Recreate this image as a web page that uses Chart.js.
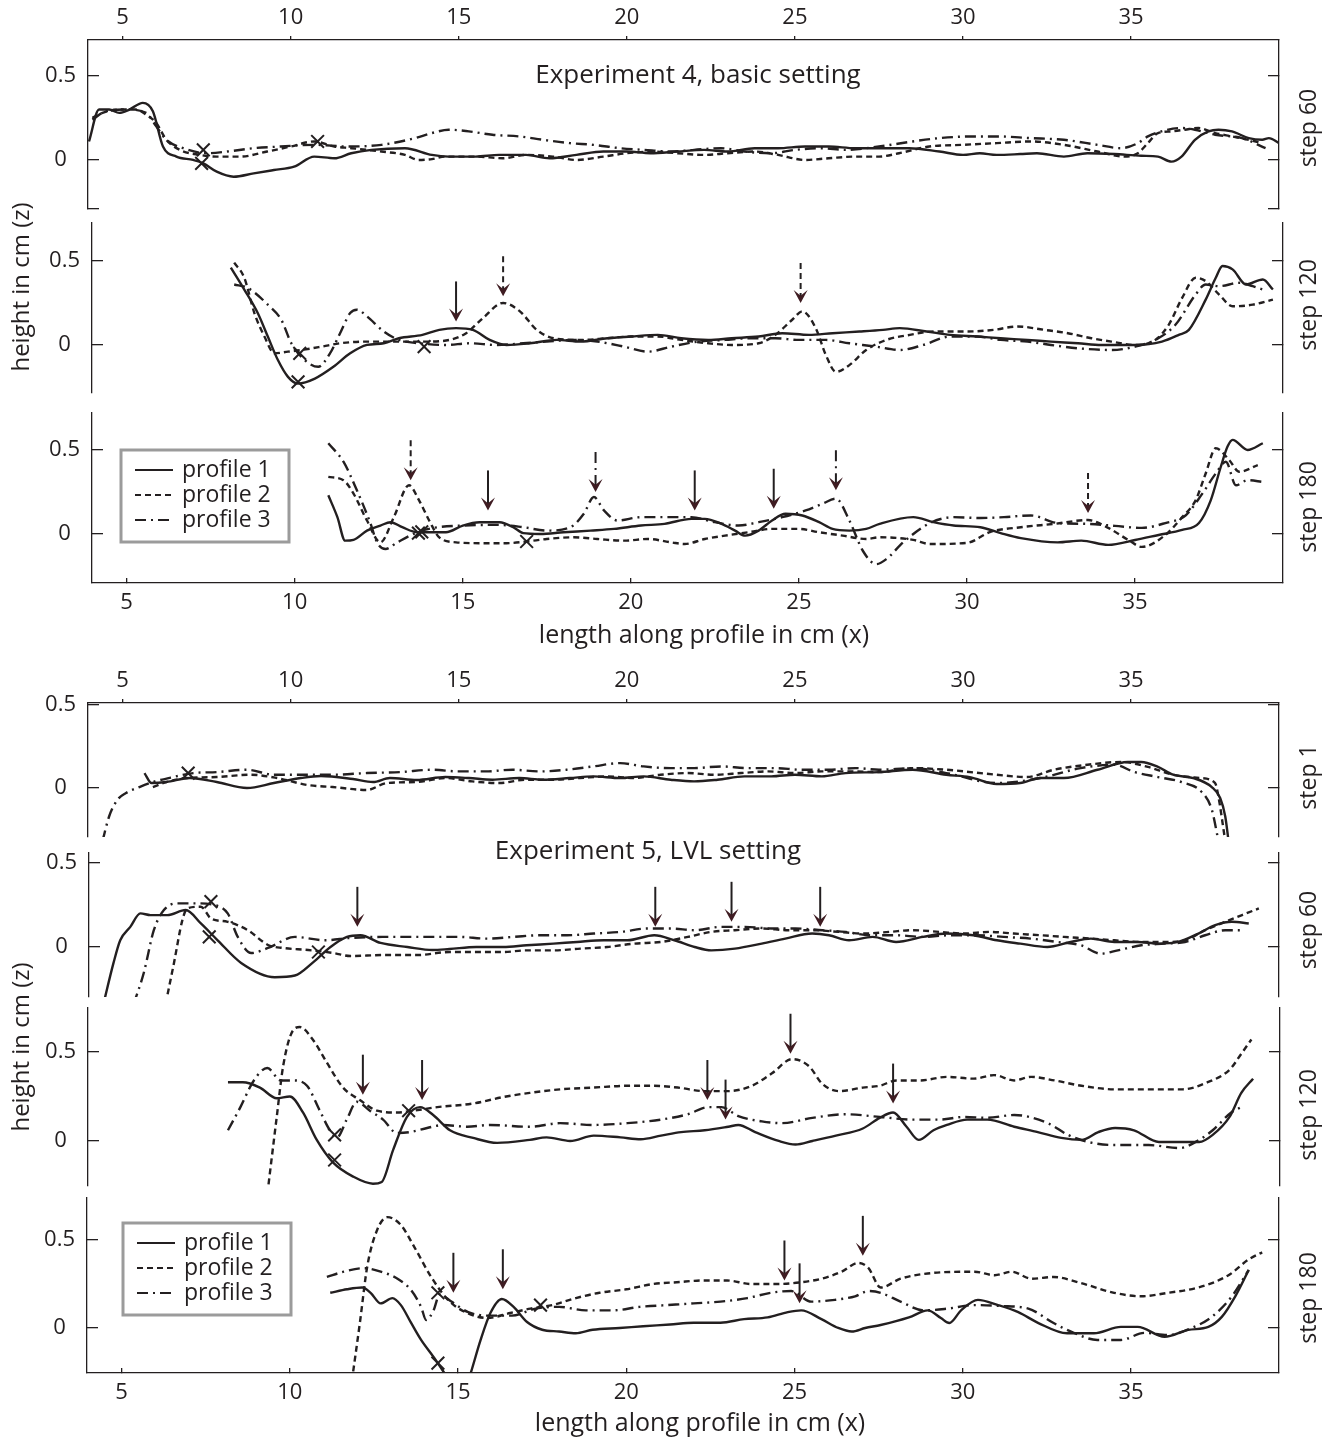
<!DOCTYPE html>
<html>
<head>
<meta charset="utf-8">
<script src="https://cdn.jsdelivr.net/npm/chart.js@4.4.1/dist/chart.umd.min.js"></script>
<style>
  body { margin: 0; background: #fff; }
  #wrap { position: relative; width: 1331px; height: 1438px; overflow: hidden; background: #fff; }
  #wrap canvas { position: absolute; left: 0; }
</style>
</head>
<body>
<div id="wrap"></div>
<script>
// ---- texts and ticks ----
const xTicks = [5, 10, 15, 20, 25, 30, 35];
const yTicks = [0, 0.5];
const profileNames = ['profile 1', 'profile 2', 'profile 3'];
const exp4Steps = ['step 60', 'step 120', 'step 180'];
const exp5Steps = ['step 1', 'step 60', 'step 120', 'step 180'];
const xTitle = 'length along profile in cm (x)';
const yTitle = 'height in cm (z)';
const exp4Title = 'Experiment 4, basic setting';
const exp5Title = 'Experiment 5, LVL setting';

// ---- Experiment 4, step 60 ----
const exp4Step60Profile1 = [[4.0,0.11],[4.3,0.30],[4.6,0.30],[4.9,0.28],[5.2,0.30],[5.6,0.34],[5.9,0.29],[6.2,0.08],[6.6,0.02],[7.1,0.0],[7.4,-0.02],[7.8,-0.07],[8.3,-0.10],[8.9,-0.08],[9.5,-0.06],[10.1,-0.04],[10.7,0.02],[11.3,0.01],[11.8,0.04],[12.4,0.06],[13.4,0.07],[14.2,0.03],[14.7,0.02],[15.5,0.02],[16.2,0.03],[17,0.03],[17.7,0.01],[18.5,0.03],[19.3,0.05],[20,0.05],[20.7,0.04],[21.5,0.05],[22.3,0.06],[23,0.05],[23.8,0.07],[24.5,0.07],[25.3,0.08],[26,0.08],[26.8,0.07],[27.5,0.07],[28.4,0.07],[29.3,0.05],[30,0.03],[30.5,0.04],[31,0.03],[31.7,0.035],[32.2,0.04],[33,0.02],[33.7,0.04],[34.5,0.035],[35.3,0.025],[35.8,0.02],[36.2,-0.01],[36.5,0.02],[36.9,0.12],[37.3,0.17],[37.6,0.18],[38,0.17],[38.5,0.13],[38.9,0.12],[39.1,0.13],[39.4,0.10]];
const exp4Step60Profile2 = [[4.1,0.25],[4.4,0.28],[4.9,0.30],[5.4,0.30],[5.7,0.27],[6.0,0.22],[6.3,0.12],[6.7,0.06],[7.3,0.03],[7.8,0.02],[8.5,0.02],[9.3,0.05],[10.0,0.08],[10.7,0.11],[11.3,0.08],[11.8,0.07],[12.7,0.05],[13.4,0.03],[13.8,0.0],[14.2,0.005],[14.6,0.02],[15.5,0.02],[16.3,0.01],[17,0.03],[17.8,0.02],[18.5,0.0],[19.3,0.02],[20,0.04],[20.8,0.05],[21.5,0.04],[22.3,0.03],[23,0.04],[23.8,0.05],[24.5,0.03],[25.3,0.0],[26,0.01],[26.8,0.02],[27.5,0.02],[28.1,0.04],[29,0.08],[30,0.09],[31,0.10],[32,0.11],[33,0.09],[34,0.05],[34.8,0.02],[35.2,0.04],[35.5,0.10],[35.8,0.16],[36.2,0.17],[36.6,0.18],[37,0.19],[37.5,0.16],[38,0.14],[38.5,0.12],[38.9,0.10]];
const exp4Step60Profile3 = [[4.1,0.24],[4.5,0.29],[5.1,0.30],[5.7,0.28],[6.0,0.20],[6.3,0.12],[6.8,0.07],[7.5,0.04],[8.1,0.05],[8.9,0.07],[9.7,0.08],[10.7,0.09],[11.7,0.08],[12.7,0.09],[13.7,0.13],[14.2,0.16],[14.7,0.18],[15.3,0.17],[16,0.15],[16.8,0.14],[17.5,0.12],[18.3,0.10],[19,0.09],[19.8,0.07],[20.5,0.06],[21.3,0.05],[22,0.06],[22.8,0.07],[23.5,0.05],[24.3,0.04],[25,0.06],[25.8,0.07],[26.5,0.06],[27.5,0.08],[28.5,0.11],[29.3,0.13],[30.3,0.14],[31,0.14],[32,0.13],[33,0.12],[34,0.09],[34.7,0.07],[35.2,0.10],[35.5,0.14],[35.9,0.17],[36.5,0.19],[36.9,0.18],[37.5,0.15],[38.3,0.13],[39,0.07]];
const exp4Step60Marks = [[7.4,0.06],[7.35,-0.02],[10.8,0.11]];
const exp4Step60Arrows = [];

// ---- Experiment 4, step 120 ----
const exp4Step120Profile1 = [[8.1,0.46],[8.5,0.33],[8.9,0.19],[9.2,0.05],[9.5,-0.09],[9.8,-0.19],[10.1,-0.23],[10.6,-0.20],[11.15,-0.13],[11.65,-0.05],[12.15,0.0],[12.65,0.01],[13.1,0.04],[13.8,0.06],[14.3,0.09],[14.8,0.10],[15.3,0.09],[15.8,0.03],[16.3,0.0],[17,0.01],[17.8,0.03],[18.5,0.02],[19.3,0.04],[20,0.05],[20.8,0.06],[21.5,0.04],[22.3,0.03],[23,0.04],[23.8,0.05],[24.5,0.07],[25.3,0.06],[26,0.07],[26.8,0.08],[27.5,0.09],[28,0.10],[28.8,0.08],[29.5,0.06],[30.3,0.05],[31,0.04],[31.8,0.03],[32.5,0.02],[33.3,0.01],[34,0.0],[35,0.0],[35.8,0.02],[36.3,0.06],[36.6,0.09],[37.1,0.27],[37.4,0.40],[37.6,0.47],[37.9,0.45],[38.3,0.36],[38.8,0.39],[39.1,0.33]];
const exp4Step120Profile2 = [[8.2,0.49],[8.5,0.40],[8.8,0.19],[9.1,0.05],[9.4,-0.05],[9.8,-0.04],[10.2,-0.03],[10.8,-0.01],[11.35,0.01],[12.15,0.02],[13.1,0.02],[13.9,0.02],[14.6,0.03],[15.1,0.07],[15.6,0.16],[16.2,0.25],[16.7,0.20],[17.2,0.09],[17.7,0.04],[18.5,0.03],[19.3,0.04],[20,0.05],[20.8,0.05],[21.5,0.03],[22.3,0.01],[23,0.0],[23.8,0.01],[24.3,0.06],[24.8,0.15],[25.1,0.20],[25.5,0.10],[25.8,-0.06],[26.1,-0.16],[26.5,-0.12],[27,-0.03],[27.6,0.03],[28.3,0.06],[29,0.08],[30,0.08],[30.8,0.09],[31.5,0.11],[32.3,0.09],[33,0.07],[33.7,0.04],[34.3,0.02],[35,0.0],[35.6,0.03],[36,0.12],[36.4,0.28],[36.8,0.40],[37.1,0.38],[37.5,0.30],[37.9,0.23],[38.5,0.24],[39.1,0.27]];
const exp4Step120Profile3 = [[8.2,0.36],[8.6,0.34],[9.2,0.24],[9.6,0.15],[9.9,0.01],[10.3,-0.09],[10.7,-0.13],[11.05,-0.05],[11.35,0.07],[11.65,0.19],[11.85,0.21],[12.15,0.17],[12.65,0.08],[13.1,0.03],[13.7,0.01],[14.5,0.0],[15.2,0.01],[16,0.0],[16.8,0.01],[17.5,0.02],[18.3,0.03],[19,0.02],[19.8,-0.01],[20.5,-0.04],[21.2,-0.01],[22,0.02],[22.8,0.03],[23.5,0.04],[24.3,0.04],[25,0.03],[25.8,0.03],[26.5,0.01],[27.3,-0.01],[28,-0.03],[28.7,0.0],[29.5,0.05],[30.3,0.05],[31,0.03],[31.8,0.02],[32.5,0.0],[33.3,-0.02],[34.3,-0.03],[35,-0.01],[35.6,0.03],[36.2,0.12],[36.8,0.30],[37.1,0.36],[37.5,0.35],[38.1,0.37],[38.5,0.35],[38.8,0.33]];
const exp4Step120Marks = [[10.1,-0.22],[10.15,-0.05],[13.85,-0.01]];
const exp4Step120Arrows = [[14.8,0.14,1],[16.2,0.29,2],[25.05,0.25,2]];

// ---- Experiment 4, step 180 ----
const exp4Step180Profile1 = [[11.0,0.23],[11.27,0.10],[11.5,-0.04],[11.75,-0.035],[12.15,0.02],[12.55,0.05],[12.85,0.07],[13.2,0.04],[13.65,0.01],[14.0,0.01],[14.5,0.01],[15.0,0.05],[15.5,0.07],[16.1,0.07],[16.5,0.04],[16.8,0.005],[17.3,0.0],[18,0.01],[18.8,0.02],[19.5,0.03],[20.3,0.05],[21,0.06],[21.8,0.09],[22.2,0.09],[22.7,0.06],[23.1,0.02],[23.4,-0.01],[23.8,0.02],[24.2,0.08],[24.6,0.12],[25.1,0.11],[25.6,0.07],[26,0.03],[26.5,0.02],[27,0.03],[27.4,0.06],[28.4,0.10],[29,0.07],[29.6,0.05],[30.4,0.04],[31,0.005],[31.6,-0.025],[32.7,-0.05],[33.4,-0.04],[34.2,-0.065],[35,-0.036],[35.7,-0.006],[36.4,0.024],[36.9,0.065],[37.25,0.20],[37.55,0.40],[37.75,0.52],[37.9,0.56],[38.35,0.50],[38.8,0.54]];
const exp4Step180Profile2 = [[11.0,0.34],[11.45,0.32],[11.75,0.24],[12.15,0.08],[12.55,-0.05],[12.95,0.10],[13.4,0.29],[13.7,0.20],[14.0,0.08],[14.3,-0.02],[14.8,-0.05],[15.5,-0.055],[16.3,-0.055],[16.9,-0.045],[17.5,-0.03],[18.3,-0.02],[19,-0.03],[19.8,-0.04],[20.5,-0.03],[21.2,-0.05],[21.6,-0.06],[22.2,-0.03],[22.8,-0.01],[23.5,0.01],[24.2,0.03],[25,0.03],[25.6,0.01],[26.3,-0.01],[27,-0.03],[27.4,-0.02],[28.4,-0.035],[28.9,-0.06],[30,-0.053],[30.7,0.012],[31.6,0.04],[32.6,0.06],[33.6,0.083],[34.2,0.036],[34.8,-0.036],[35.2,-0.077],[35.9,-0.006],[36.4,0.10],[36.8,0.20],[37.1,0.36],[37.4,0.51],[37.8,0.44],[38.1,0.37],[38.65,0.41]];
const exp4Step180Profile3 = [[11.0,0.54],[11.45,0.43],[11.85,0.26],[12.25,0.065],[12.45,-0.05],[12.7,-0.09],[13.05,-0.05],[13.65,0.01],[14.1,0.035],[15,0.05],[16,0.054],[16.8,0.04],[17.5,0.02],[18.2,0.04],[18.6,0.12],[18.9,0.22],[19.2,0.14],[19.6,0.08],[20.3,0.10],[21,0.10],[21.8,0.10],[22.5,0.07],[23.2,0.05],[23.8,0.07],[24.5,0.10],[25.2,0.14],[25.7,0.18],[26.1,0.21],[26.5,0.08],[26.9,-0.10],[27.3,-0.18],[27.6,-0.15],[28.1,-0.05],[28.9,0.065],[29.6,0.10],[30.4,0.095],[31.1,0.10],[31.9,0.11],[32.7,0.065],[33.6,0.06],[34.4,0.048],[35.2,0.036],[35.9,0.065],[36.5,0.11],[37.0,0.24],[37.4,0.36],[37.7,0.43],[38.0,0.29],[38.35,0.32],[38.8,0.31]];
const exp4Step180Marks = [[13.68,0.005],[13.78,0.012],[16.9,-0.045]];
const exp4Step180Arrows = [[13.45,0.32,2],[15.75,0.14,1],[18.95,0.25,3],[21.9,0.14,1],[24.25,0.15,1],[26.1,0.26,3],[33.6,0.125,2]];

// ---- Experiment 5, step 1 ----
const exp5Step1Profile1 = [[5.65,0.09],[5.86,0.03],[6.3,0.036],[7.0,0.06],[7.8,0.036],[8.7,0.0],[9.5,0.03],[10.3,0.06],[10.9,0.072],[11.85,0.054],[12.45,0.036],[12.95,0.06],[13.75,0.048],[14.6,0.066],[15.3,0.06],[16,0.05],[16.8,0.06],[17.5,0.05],[18.3,0.06],[19,0.07],[19.8,0.06],[20.5,0.07],[21.3,0.05],[22,0.04],[22.7,0.05],[23.5,0.07],[24.3,0.07],[25,0.08],[25.8,0.07],[26.5,0.09],[27.5,0.096],[28.5,0.11],[29.5,0.08],[30.2,0.066],[31,0.024],[31.7,0.03],[32.3,0.06],[33,0.06],[34,0.11],[34.9,0.157],[35.3,0.157],[35.8,0.127],[36.25,0.08],[36.85,0.06],[37.4,0.006],[37.65,-0.06],[37.8,-0.17],[37.9,-0.32]];
const exp5Step1Profile2 = [[5.9,0.006],[6.3,0.036],[6.9,0.06],[7.8,0.066],[8.8,0.08],[9.6,0.06],[10.5,0.018],[11.25,0.006],[12.26,-0.012],[12.86,0.03],[13.75,0.036],[14.6,0.06],[15.4,0.04],[16.2,0.03],[17,0.05],[17.8,0.05],[18.6,0.06],[19.4,0.07],[20.2,0.06],[21,0.08],[21.8,0.09],[22.6,0.08],[23.4,0.09],[24.2,0.10],[25,0.09],[25.8,0.10],[26.6,0.10],[27.5,0.096],[28.5,0.12],[29.5,0.11],[31.0,0.08],[31.9,0.066],[32.7,0.11],[33.7,0.14],[34.7,0.157],[35.5,0.127],[36.25,0.08],[37.05,0.06],[37.5,0.03],[37.6,-0.054],[37.75,-0.25],[37.8,-0.32]];
const exp5Step1Profile3 = [[4.4,-0.32],[4.6,-0.17],[4.85,-0.07],[5.1,-0.03],[5.5,0.006],[5.9,0.036],[6.5,0.066],[7.1,0.09],[7.8,0.096],[8.7,0.11],[9.5,0.08],[10.3,0.08],[11.25,0.08],[12.26,0.09],[13.25,0.096],[14.2,0.11],[15,0.10],[15.8,0.10],[16.6,0.11],[17.4,0.10],[18.2,0.11],[19,0.13],[19.8,0.15],[20.5,0.13],[21.3,0.12],[22,0.12],[22.8,0.13],[23.6,0.12],[24.4,0.12],[25.2,0.11],[26,0.11],[26.8,0.12],[27.5,0.11],[28.5,0.12],[29.5,0.09],[31,0.03],[32.3,0.06],[33.5,0.12],[34.5,0.14],[35.1,0.096],[35.8,0.066],[36.5,0.036],[37.1,-0.024],[37.4,-0.13],[37.6,-0.32]];
const exp5Step1Marks = [[6.95,0.09]];
const exp5Step1Arrows = [];

// ---- Experiment 5, step 60 ----
const exp5Step60Profile1 = [[4.4,-0.34],[4.7,-0.095],[4.9,0.04],[5.2,0.12],[5.5,0.20],[5.8,0.19],[6.3,0.19],[6.85,0.22],[7.3,0.14],[7.8,0.04],[8.5,-0.095],[9.5,-0.18],[10.1,-0.17],[10.65,-0.09],[11.16,0.0],[11.65,0.06],[12.05,0.07],[12.65,0.024],[13.45,0.0],[14.2,-0.018],[14.7,-0.012],[15.5,0.0],[16.3,0.0],[17,0.01],[17.8,0.02],[18.5,0.03],[19.3,0.04],[20,0.04],[20.8,0.07],[21.4,0.04],[22,0.0],[22.5,-0.02],[23.2,-0.01],[24,0.02],[24.7,0.05],[25.5,0.08],[26,0.07],[26.6,0.04],[27.3,0.06],[28,0.03],[28.8,0.06],[29.5,0.08],[30.3,0.07],[31,0.04],[31.7,0.02],[32.5,0.0],[33.2,0.03],[33.8,0.05],[34.5,0.03],[35.2,0.03],[35.8,0.02],[36.4,0.03],[37,0.08],[37.5,0.13],[38,0.15],[38.5,0.14]];
const exp5Step60Profile2 = [[6.25,-0.34],[6.5,-0.095],[6.75,0.16],[6.9,0.23],[7.3,0.24],[7.6,0.17],[8.1,0.15],[8.7,0.10],[9.3,0.012],[9.75,-0.006],[10.5,-0.018],[11.25,-0.036],[11.75,-0.054],[12.75,-0.048],[13.75,-0.048],[14.7,-0.03],[15.5,-0.03],[16.3,-0.03],[17,-0.02],[17.8,-0.02],[18.6,-0.01],[19.4,0.0],[20.2,0.02],[21,0.03],[21.8,0.06],[22.5,0.09],[23.2,0.10],[24,0.11],[24.8,0.10],[25.5,0.10],[26.3,0.09],[27,0.08],[27.8,0.09],[28.5,0.10],[29.3,0.09],[30,0.08],[30.8,0.09],[31.5,0.08],[32.3,0.07],[33,0.06],[33.8,0.05],[34.5,0.04],[35.3,0.03],[36,0.03],[36.6,0.04],[37.2,0.10],[37.8,0.15],[38.3,0.19],[38.8,0.23]];
const exp5Step60Profile3 = [[5.3,-0.34],[5.6,-0.155],[5.9,0.10],[6.2,0.22],[6.6,0.26],[7.1,0.26],[7.7,0.25],[8.1,0.20],[8.4,0.06],[8.8,-0.036],[9.3,-0.006],[10.1,0.06],[11.0,0.04],[11.75,0.054],[12.7,0.06],[13.5,0.06],[14.2,0.06],[15,0.06],[15.8,0.05],[16.6,0.06],[17.4,0.07],[18.2,0.07],[19,0.08],[19.8,0.09],[20.6,0.11],[21.3,0.11],[22,0.10],[22.8,0.12],[23.5,0.12],[24.3,0.11],[25,0.11],[25.8,0.10],[26.5,0.09],[27.2,0.07],[28,0.07],[28.8,0.06],[29.6,0.07],[30.4,0.07],[31.2,0.06],[32,0.05],[32.8,0.03],[33.5,0.01],[34.1,-0.04],[34.6,-0.02],[35.3,0.01],[36,0.02],[36.6,0.03],[37.2,0.07],[37.8,0.10],[38.3,0.10]];
const exp5Step60Marks = [[7.6,0.27],[7.55,0.06],[10.8,-0.03]];
const exp5Step60Arrows = [[11.96,0.12,1],[20.83,0.12,1],[23.1,0.15,1],[25.74,0.12,1]];

// ---- Experiment 5, step 120 ----
const exp5Step120Profile1 = [[8.13,0.33],[8.57,0.33],[9.08,0.30],[9.58,0.24],[9.97,0.25],[10.36,0.16],[10.77,0.006],[11.25,-0.12],[11.85,-0.20],[12.44,-0.24],[12.7,-0.23],[13.04,-0.05],[13.45,0.135],[13.84,0.19],[14.23,0.146],[14.73,0.06],[15.42,0.017],[16.13,-0.011],[17.1,0.006],[17.6,0.02],[18.3,0.0],[19,0.03],[19.8,0.02],[20.4,0.01],[21,0.03],[21.6,0.05],[22.3,0.06],[23,0.08],[23.3,0.09],[23.8,0.05],[24.5,0.0],[25,-0.02],[25.5,0.0],[26.2,0.03],[27,0.07],[27.5,0.13],[27.9,0.16],[28.3,0.08],[28.66,0.006],[29.1,0.06],[29.5,0.09],[30.1,0.12],[30.7,0.12],[31.5,0.08],[32.2,0.05],[32.9,0.017],[33.5,0.006],[34.0,0.05],[34.5,0.073],[35.06,0.06],[35.8,-0.006],[36.5,-0.006],[37.0,-0.006],[37.4,0.034],[37.9,0.135],[38.25,0.27],[38.6,0.35]];
const exp5Step120Profile2 = [[9.3,-0.30],[9.58,0.135],[9.77,0.42],[10.06,0.62],[10.27,0.64],[10.65,0.57],[11.07,0.44],[11.55,0.30],[12.05,0.23],[12.56,0.17],[13.15,0.16],[13.63,0.17],[14.35,0.19],[15.4,0.21],[16.4,0.25],[17.1,0.27],[18,0.29],[19,0.30],[20,0.31],[20.8,0.31],[21.5,0.30],[22.3,0.28],[23,0.28],[23.7,0.31],[24.3,0.38],[24.9,0.46],[25.4,0.42],[25.8,0.32],[26.3,0.28],[27,0.30],[27.5,0.31],[28,0.34],[28.7,0.34],[29.5,0.36],[30.3,0.35],[30.9,0.37],[31.5,0.34],[32,0.36],[32.7,0.34],[33.5,0.31],[34.5,0.29],[35.5,0.29],[36.5,0.29],[37.25,0.33],[37.9,0.40],[38.25,0.49],[38.55,0.57]];
const exp5Step120Profile3 = [[8.13,0.06],[8.5,0.19],[8.9,0.34],[9.3,0.41],[9.7,0.34],[10.06,0.34],[10.48,0.31],[10.86,0.17],[11.16,0.06],[11.37,0.02],[11.66,0.12],[11.96,0.22],[12.35,0.17],[12.74,0.12],[13.15,0.045],[13.54,0.05],[14.05,0.073],[14.53,0.09],[15.24,0.08],[15.92,0.09],[17.1,0.08],[18,0.10],[19,0.09],[20,0.10],[21,0.12],[21.8,0.15],[22.4,0.19],[22.8,0.19],[23.3,0.14],[24,0.11],[24.6,0.10],[25.5,0.13],[26.5,0.15],[27.5,0.135],[28.5,0.12],[29.3,0.12],[30,0.135],[30.7,0.13],[31.5,0.146],[32.5,0.10],[33.1,0.034],[33.7,-0.006],[34.5,-0.023],[35.5,-0.023],[36.4,-0.04],[37,0.006],[37.4,0.06],[37.95,0.16],[38.25,0.19]];
const exp5Step120Marks = [[11.3,0.034],[11.3,-0.107],[13.5,0.17]];
const exp5Step120Arrows = [[12.14,0.26,1],[13.9,0.23,1],[22.38,0.23,1],[22.92,0.12,1],[24.85,0.49,1],[27.9,0.21,1]];

// ---- Experiment 5, step 180 ----
const exp5Step180Profile1 = [[11.2,0.20],[11.7,0.22],[12.15,0.23],[12.4,0.20],[12.7,0.14],[13.05,0.17],[13.3,0.13],[13.6,0.03],[13.9,-0.068],[14.27,-0.165],[14.57,-0.25],[14.9,-0.36],[15.2,-0.36],[15.37,-0.26],[15.67,-0.068],[15.96,0.085],[16.3,0.165],[16.65,0.12],[17.05,0.034],[17.5,-0.01],[18,-0.02],[18.5,-0.03],[19,-0.01],[19.8,0.0],[20.5,0.01],[21.3,0.02],[22,0.03],[22.8,0.03],[23.5,0.05],[24.2,0.06],[24.8,0.09],[25.2,0.10],[25.8,0.05],[26.3,0.0],[26.7,-0.02],[27.1,0.0],[27.56,0.017],[28.4,0.06],[28.96,0.10],[29.35,0.057],[29.6,0.028],[29.95,0.10],[30.45,0.16],[31.05,0.13],[31.65,0.09],[32.25,0.028],[33.1,-0.03],[33.9,-0.03],[34.7,0.006],[35.2,0.006],[36.0,-0.05],[36.7,-0.011],[37.3,0.006],[37.7,0.063],[38.1,0.18],[38.5,0.33]];
const exp5Step180Profile2 = [[11.8,-0.36],[12.08,0.028],[12.3,0.35],[12.6,0.56],[12.9,0.63],[13.3,0.585],[13.7,0.46],[14.2,0.29],[14.7,0.16],[15.27,0.085],[15.87,0.057],[16.55,0.085],[17.15,0.11],[17.8,0.13],[18.5,0.17],[19.2,0.20],[20,0.22],[20.8,0.25],[21.5,0.26],[22.3,0.27],[23,0.27],[23.7,0.25],[24.5,0.25],[25.2,0.26],[25.8,0.28],[26.4,0.32],[26.9,0.37],[27.2,0.34],[27.56,0.23],[28.15,0.28],[28.96,0.31],[30.35,0.32],[30.95,0.30],[31.45,0.32],[32.05,0.28],[32.7,0.29],[33.5,0.256],[34.5,0.20],[35.3,0.18],[36.1,0.20],[37.0,0.23],[37.9,0.30],[38.5,0.39],[38.9,0.43]];
const exp5Step180Profile3 = [[11.1,0.29],[11.6,0.32],[12.2,0.34],[12.7,0.32],[13.2,0.28],[13.6,0.216],[13.9,0.12],[14.05,0.045],[14.27,0.10],[14.45,0.19],[14.8,0.15],[15.3,0.09],[15.9,0.07],[16.6,0.07],[17.3,0.11],[18,0.12],[18.8,0.10],[19.6,0.10],[20.4,0.12],[21.2,0.13],[22,0.14],[22.8,0.15],[23.6,0.17],[24.3,0.20],[24.9,0.21],[25.5,0.15],[26.2,0.16],[26.8,0.18],[27.2,0.21],[27.56,0.20],[28.15,0.15],[28.85,0.10],[29.55,0.11],[30.35,0.13],[31.15,0.125],[31.95,0.11],[32.7,0.028],[33.3,-0.028],[34.0,-0.068],[34.7,-0.068],[35.4,-0.028],[36.1,-0.04],[36.8,0.0],[37.4,0.063],[38.0,0.18],[38.5,0.33]];
const exp5Step180Marks = [[14.4,0.20],[14.4,-0.20],[17.45,0.13]];
const exp5Step180Arrows = [[14.86,0.20,1],[16.33,0.22,1],[24.7,0.27,1],[25.15,0.14,1],[27.03,0.41,1]];

// ---- styling / layout ----
const ink = '#231f20';
const headColor = '#3f1c22';
const family = '"Open Sans", "DejaVu Sans", sans-serif';
const dashes = [[], [6, 4], [11, 5, 2, 5]];
const xMin = 3.97, xMax = 39.4;
const padBottom = 70;

const panels = [
  { top: 40, bottom: 209, left: 88, right: 1279, ymin: -0.292, ymax: 0.714, axis: 'top', edgeTick: true,
    step: exp4Steps[0], stepY: 128, title: { text: exp4Title, x: 698, y: 76 },
    lines: [exp4Step60Profile1, exp4Step60Profile2, exp4Step60Profile3], marks: exp4Step60Marks, arrows: exp4Step60Arrows },
  { top: 223, bottom: 393, left: 92, right: 1283, ymin: -0.286, ymax: 0.726,
    step: exp4Steps[1], stepY: 305, yLabel: { x: 22, y: 287 },
    lines: [exp4Step120Profile1, exp4Step120Profile2, exp4Step120Profile3], marks: exp4Step120Marks, arrows: exp4Step120Arrows },
  { top: 413, bottom: 583, left: 92, right: 1283, ymin: -0.292, ymax: 0.72, axis: 'bottom', xLabel: { x: 704, y: 636 },
    step: exp4Steps[2], stepY: 507, legend: { dx: 29, dy: 37 },
    lines: [exp4Step180Profile1, exp4Step180Profile2, exp4Step180Profile3], marks: exp4Step180Marks, arrows: exp4Step180Arrows },
  { top: 703, bottom: 837, left: 88, right: 1279, ymin: -0.295, ymax: 0.512, axis: 'top',
    step: exp5Steps[0], stepY: 777,
    lines: [exp5Step1Profile1, exp5Step1Profile2, exp5Step1Profile3], marks: exp5Step1Marks, arrows: exp5Step1Arrows },
  { top: 853, bottom: 997, left: 89, right: 1279, ymin: -0.298, ymax: 0.56,
    step: exp5Steps[1], stepY: 930, title: { text: exp5Title, x: 648, y: 852 },
    lines: [exp5Step60Profile1, exp5Step60Profile2, exp5Step60Profile3], marks: exp5Step60Marks, arrows: exp5Step60Arrows },
  { top: 1008, bottom: 1186, left: 88, right: 1280, ymin: -0.253, ymax: 0.747, padTop: 70,
    step: exp5Steps[2], stepY: 1115, yLabel: { x: 22, y: 1047 },
    lines: [exp5Step120Profile1, exp5Step120Profile2, exp5Step120Profile3], marks: exp5Step120Marks, arrows: exp5Step120Arrows },
  { top: 1198, bottom: 1373, left: 87, right: 1279, ymin: -0.256, ymax: 0.739, axis: 'bottom', xLabel: { x: 700, y: 1424 },
    step: exp5Steps[3], stepY: 1298, legend: { dx: 36, dy: 25 },
    lines: [exp5Step180Profile1, exp5Step180Profile2, exp5Step180Profile3], marks: exp5Step180Marks, arrows: exp5Step180Arrows }
];

function drawArrow(ctx, x, yTip, dash) {
  const len = 40, headH = 13, headW = 7;
  ctx.save();
  ctx.strokeStyle = ink;
  ctx.lineWidth = 2;
  ctx.setLineDash(dash);
  ctx.beginPath();
  ctx.moveTo(x, yTip - len);
  ctx.lineTo(x, yTip - 6);
  ctx.stroke();
  ctx.setLineDash([]);
  ctx.fillStyle = headColor;
  ctx.beginPath();
  ctx.moveTo(x, yTip);
  ctx.lineTo(x - headW, yTip - headH);
  ctx.lineTo(x, yTip - headH * 0.55);
  ctx.lineTo(x + headW, yTip - headH);
  ctx.closePath();
  ctx.fill();
  ctx.restore();
}

function drawLegend(ctx, area, lg) {
  const bx = area.left + lg.dx, by = area.top + lg.dy, bw = 168, bh = 92;
  ctx.save();
  ctx.fillStyle = '#fff';
  ctx.fillRect(bx, by, bw, bh);
  ctx.strokeStyle = '#9b9b9b';
  ctx.lineWidth = 3;
  ctx.strokeRect(bx, by, bw, bh);
  ctx.font = '23px ' + family;
  ctx.textBaseline = 'middle';
  ctx.fillStyle = ink;
  profileNames.forEach((name, k) => {
    const y = by + 20 + k * 25;
    ctx.strokeStyle = ink;
    ctx.lineWidth = 2.2;
    ctx.setLineDash(dashes[k]);
    ctx.beginPath();
    ctx.moveTo(bx + 14, y);
    ctx.lineTo(bx + 52, y);
    ctx.stroke();
    ctx.setLineDash([]);
    ctx.fillText(name, bx + 61, y);
  });
  ctx.restore();
}

function drawText(ctx, text, x, y, size, rotate) {
  ctx.save();
  ctx.translate(x, y);
  if (rotate) ctx.rotate(-Math.PI / 2);
  ctx.font = size + 'px ' + family;
  ctx.fillStyle = ink;
  ctx.textAlign = 'center';
  ctx.textBaseline = 'middle';
  ctx.fillText(text, 0, 0);
  ctx.restore();
}

const wrap = document.getElementById('wrap');

panels.forEach((p, i) => {
  const padTop = p.padTop || 40;
  const h = p.bottom - p.top + padTop + padBottom;
  const off = p.top - padTop;
  const cv = document.createElement('canvas');
  cv.width = 1331;
  cv.height = h;
  cv.style.width = '1331px';
  cv.style.height = h + 'px';
  cv.style.top = off + 'px';
  wrap.appendChild(cv);

  const datasets = p.lines.map((pts, k) => ({
    label: profileNames[k],
    data: pts.map(([x, y]) => ({ x, y })),
    borderColor: ink,
    borderWidth: 2.4,
    borderDash: dashes[k],
    pointRadius: 0,
    cubicInterpolationMode: 'monotone',
    fill: false
  }));
  datasets.push({
    label: 'marks',
    data: p.marks.map(([x, y]) => ({ x, y })),
    showLine: false,
    pointStyle: 'crossRot',
    pointRadius: 9,
    borderColor: ink,
    borderWidth: 2
  });

  const yScale = pos => ({
    type: 'linear',
    position: pos,
    min: p.ymin,
    max: p.ymax,
    afterBuildTicks: s => {
      const t = yTicks.slice();
      if (p.edgeTick) t.unshift(p.ymin);
      s.ticks = t.map(v => ({ value: v }));
    },
    afterFit: s => { s.width = pos === 'left' ? p.left : 1331 - p.right; },
    grid: { drawOnChartArea: false, tickLength: -11, color: ink, lineWidth: 1.3 },
    border: { color: ink, width: 1.3 },
    ticks: {
      display: pos === 'left',
      crossAlign: 'center',
      padding: 23,
      color: ink,
      font: { family, size: 22 },
      callback: v => (yTicks.includes(v) ? String(v) : '')
    }
  });

  new Chart(cv, {
    type: 'line',
    data: { datasets },
    options: {
      responsive: false,
      animation: false,
      events: [],
      layout: { padding: { top: p.axis === 'top' ? 0 : padTop, bottom: p.axis === 'bottom' ? 0 : padBottom, left: 0, right: 0 } },
      plugins: { legend: { display: false }, tooltip: { enabled: false } },
      scales: {
        x: {
          type: 'linear',
          position: p.axis || 'bottom',
          display: !!p.axis,
          min: xMin,
          max: xMax,
          afterBuildTicks: s => { s.ticks = xTicks.map(v => ({ value: v })); },
          afterFit: s => { s.height = p.axis === 'top' ? padTop : (p.axis === 'bottom' ? padBottom : 0); },
          grid: { drawOnChartArea: false, tickLength: p.axis === 'top' ? 4 : -5, color: ink, lineWidth: 1.3 },
          border: { color: ink, width: 1.3 },
          ticks: { color: ink, font: { family, size: 22 }, padding: p.axis === 'top' ? 5 : 12, maxRotation: 0, autoSkip: false, callback: v => String(v) }
        },
        y: yScale('left'),
        y2: yScale('right')
      }
    },
    plugins: [{
      id: 'decor' + i,
      afterDatasetsDraw(chart) {
        const ctx = chart.ctx;
        const xs = chart.scales.x, ys = chart.scales.y;
        p.arrows.forEach(([x, y, k]) => drawArrow(ctx, xs.getPixelForValue(x), ys.getPixelForValue(y), dashes[k - 1]));
        if (p.legend) drawLegend(ctx, chart.chartArea, p.legend);
      },
      afterDraw(chart) {
        const ctx = chart.ctx;
        drawText(ctx, p.step, 1309, p.stepY - off, 23, true);
        if (p.yLabel) drawText(ctx, yTitle, p.yLabel.x, p.yLabel.y - off, 24, true);
        if (p.xLabel) drawText(ctx, xTitle, p.xLabel.x, p.xLabel.y - off, 25, false);
        if (p.title) drawText(ctx, p.title.text, p.title.x, p.title.y - off, 26, false);
      }
    }]
  });
});
</script>
</body>
</html>
